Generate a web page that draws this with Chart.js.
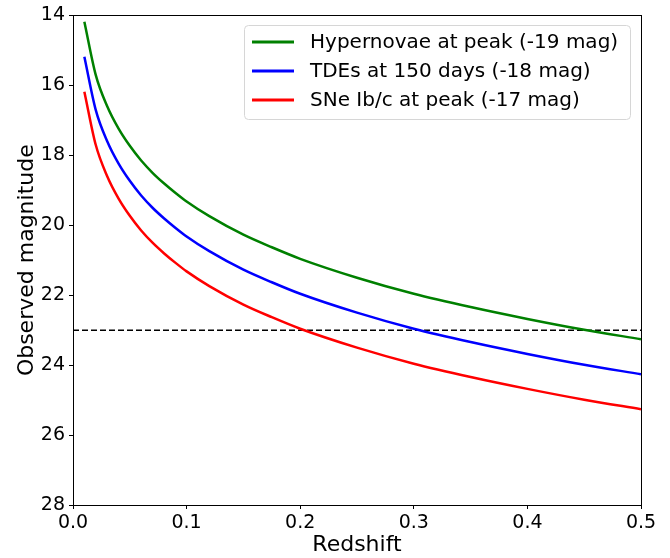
<!DOCTYPE html>
<html>
<head>
<meta charset="utf-8">
<script src="https://cdn.jsdelivr.net/npm/chart.js@4.4.1/dist/chart.umd.min.js"></script>
<style>
  html, body { margin: 0; padding: 0; background: #fff; }
  #wrap { width: 670px; height: 558px; }
</style>
</head>
<body>
<div id="wrap"><canvas id="chart" width="670" height="558"></canvas></div>
<script>
// Observed magnitude vs redshift for three transient classes.

const redshift = [0.01, 0.02, 0.03, 0.04, 0.05, 0.06, 0.07, 0.08, 0.09, 0.10,
                  0.12, 0.15, 0.175, 0.20, 0.25, 0.30, 0.35, 0.40, 0.45, 0.50];

const hypernovae = [14.18, 15.70, 16.59, 17.23, 17.73, 18.15, 18.50, 18.80, 19.07, 19.32,
                    19.74, 20.27, 20.63, 20.96, 21.50, 21.96, 22.34, 22.68, 22.99, 23.26];
const tdes = [15.18, 16.70, 17.59, 18.23, 18.73, 19.15, 19.50, 19.80, 20.07, 20.32,
              20.74, 21.27, 21.63, 21.96, 22.50, 22.96, 23.34, 23.68, 23.99, 24.26];
const snIbc = [16.18, 17.70, 18.59, 19.23, 19.73, 20.15, 20.50, 20.80, 21.07, 21.32,
               21.74, 22.27, 22.63, 22.96, 23.50, 23.96, 24.34, 24.68, 24.99, 25.26];

const limitMag = 23;      // survey limit (dashed line)
const limitRange = [0, 0.5];

const seriesLabels = [
  'Hypernovae at peak (-19 mag)',
  'TDEs at 150 days (-18 mag)',
  'SNe Ib/c at peak (-17 mag)',
];

const FONT = 'DejaVu Sans';

const toPoints = ys => ys.map((y, i) => ({ x: redshift[i], y }));

function line(label, data, color) {
  return {
    label,
    data: toPoints(data),
    borderColor: color,
    backgroundColor: color,
    borderWidth: 2.5,
    pointRadius: 0,
    fill: false,
    cubicInterpolationMode: 'monotone',
  };
}

// --- Frame (top/right spines) ---
const framePlugin = {
  id: 'frame',
  afterDraw(chart) {
    const { ctx, chartArea: a } = chart;
    ctx.save();
    ctx.strokeStyle = '#000';
    ctx.lineWidth = 1;
    ctx.strokeRect(Math.round(a.left) + 0.5, Math.round(a.top) + 0.5,
                   Math.round(a.right - a.left), Math.round(a.bottom - a.top));
    ctx.restore();
  },
};

// --- Legend box inside the plot, matplotlib style ---
const legendBox = {
  id: 'legendBox',
  afterDraw(chart) {
    const { ctx } = chart;
    const x0 = 244, y0 = 25, w = 386, h = 94, r = 4;
    ctx.save();
    ctx.fillStyle = 'rgba(255,255,255,0.85)';
    ctx.strokeStyle = '#d6d6d6';
    ctx.lineWidth = 1;
    ctx.beginPath();
    ctx.roundRect(x0 + 0.5, y0 + 0.5, w, h, r);
    ctx.fill();
    ctx.stroke();

    ctx.font = '20px "' + FONT + '"';
    ctx.textBaseline = 'middle';
    ctx.fillStyle = '#000';
    chart.data.datasets.slice(0, 3).forEach((ds, i) => {
      const cy = 42 + i * 29;
      ctx.strokeStyle = ds.borderColor;
      ctx.lineWidth = 3;
      ctx.beginPath();
      ctx.moveTo(252, cy);
      ctx.lineTo(294, cy);
      ctx.stroke();
      ctx.fillText(ds.label, 310, cy + 1);
    });
    ctx.restore();
  },
};

new Chart(document.getElementById('chart'), {
  type: 'line',
  data: {
    datasets: [
      line(seriesLabels[0], hypernovae, '#008000'),
      line(seriesLabels[1], tdes, '#0000ff'),
      line(seriesLabels[2], snIbc, '#ff0000'),
      {
        label: 'limit',
        data: limitRange.map(x => ({ x, y: limitMag })),
        borderColor: '#000',
        borderWidth: 1.5,
        borderDash: [6, 3],
        pointRadius: 0,
        fill: false,
      },
    ],
  },
  options: {
    responsive: false,
    animation: false,
    layout: { padding: { left: 0, right: 29, top: 15, bottom: 0 } },
    plugins: { legend: { display: false }, tooltip: { enabled: false } },
    scales: {
      x: {
        type: 'linear',
        min: 0,
        max: 0.5,
        ticks: {
          stepSize: 0.1,
          color: '#000',
          padding: 3,
          font: { family: FONT, size: 19 },
          callback: v => v.toFixed(1),
          maxRotation: 0,
        },
        grid: { drawOnChartArea: false, drawTicks: true, tickLength: 4, color: '#000' },
        border: { display: true, color: '#000', width: 1 },
        title: {
          display: true,
          text: 'Redshift',
          color: '#000',
          font: { family: FONT, size: 22 },
          padding: { top: 0, bottom: 0 },
        },
        afterFit(scale) { scale.height = 53; },
      },
      y: {
        type: 'linear',
        reverse: true,
        min: 14,
        max: 28,
        ticks: {
          stepSize: 2,
          color: '#000',
          padding: 4,
          font: { family: FONT, size: 19 },
        },
        grid: { drawOnChartArea: false, drawTicks: true, tickLength: 4, color: '#000' },
        border: { display: true, color: '#000', width: 1 },
        title: {
          display: true,
          text: 'Observed magnitude',
          color: '#000',
          font: { family: FONT, size: 22 },
          padding: { top: 14, bottom: 0 },
        },
        afterFit(scale) { scale.width = 73; },
      },
    },
  },
  plugins: [framePlugin, legendBox],
});
</script>
</body>
</html>
